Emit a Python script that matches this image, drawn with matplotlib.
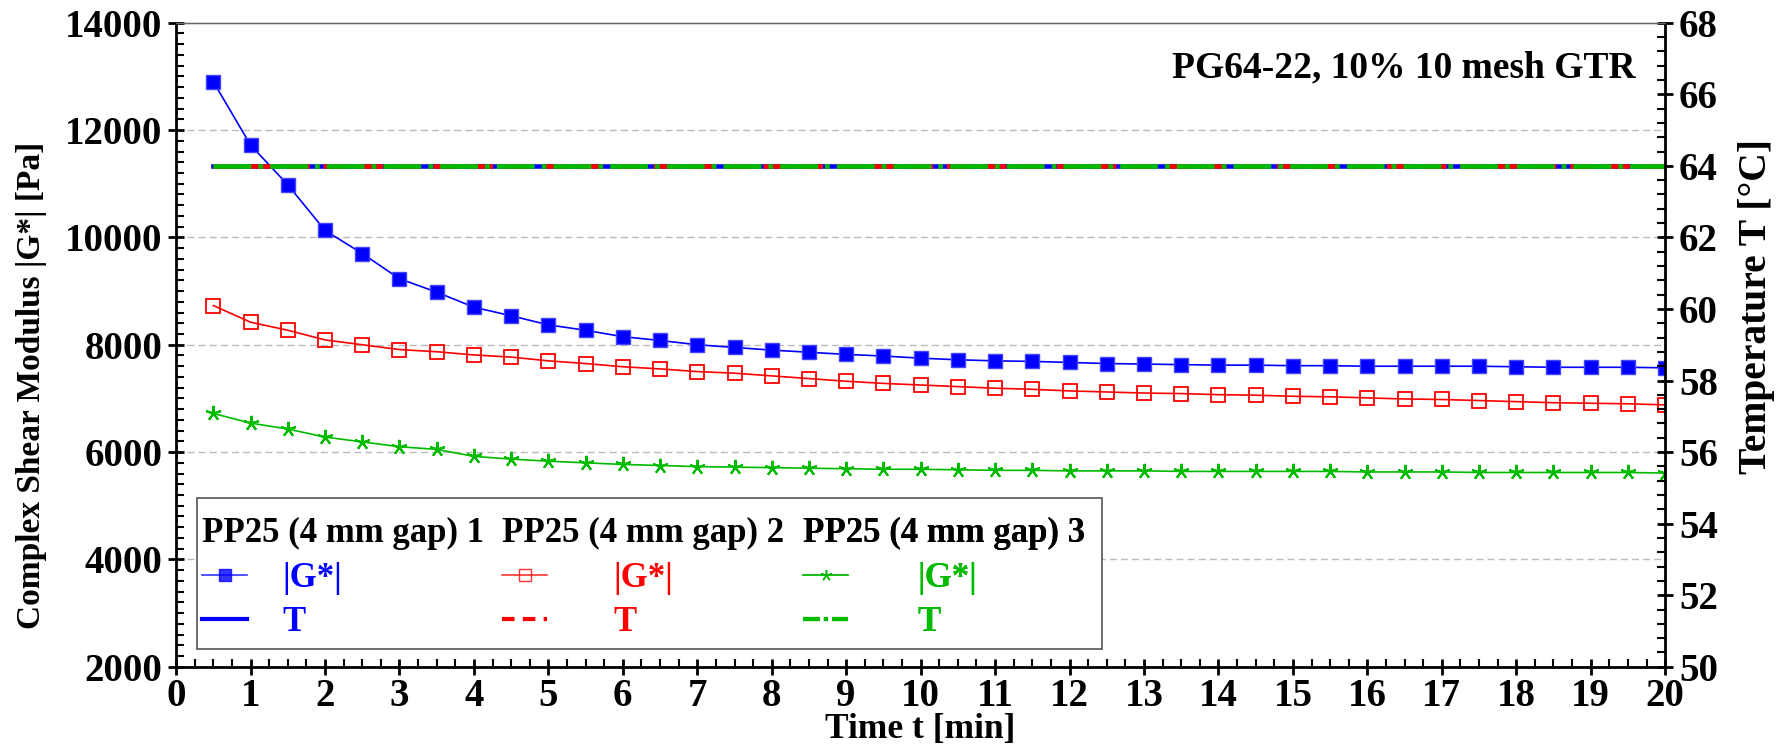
import matplotlib
matplotlib.use("Agg")
import matplotlib.pyplot as plt
from matplotlib.lines import Line2D
from matplotlib.patches import Rectangle
from matplotlib.ticker import MultipleLocator

plt.rcParams['font.family'] = ['Liberation Serif', 'DejaVu Serif']
plt.rcParams['font.weight'] = 'bold'
plt.rcParams['axes.labelweight'] = 'bold'

# Zeit [min]
t = [0.5 * i for i in range(1, 41)]

# |G*| [Pa] fuer die drei Proben
g1 = [12900, 11720, 10980, 10130, 9700, 9230, 8980, 8700, 8540, 8370,
      8270, 8150, 8080, 8000, 7950, 7900, 7860, 7820, 7790, 7750,
      7720, 7700, 7690, 7670, 7650, 7640, 7630, 7620, 7620, 7610,
      7610, 7600, 7600, 7600, 7600, 7590, 7580, 7580, 7580, 7570]
g2 = [8730, 8420, 8270, 8090, 8000, 7910, 7870, 7810, 7770, 7700,
      7650, 7590, 7550, 7500, 7470, 7420, 7370, 7320, 7280, 7250,
      7220, 7190, 7170, 7140, 7120, 7100, 7090, 7070, 7060, 7040,
      7030, 7010, 6990, 6980, 6960, 6940, 6920, 6910, 6900, 6880]
g3 = [6720, 6540, 6430, 6280, 6190, 6100, 6050, 5920, 5870, 5830,
      5800, 5770, 5750, 5730, 5720, 5710, 5700, 5690, 5680, 5680,
      5670, 5660, 5660, 5650, 5650, 5650, 5640, 5640, 5640, 5640,
      5640, 5630, 5630, 5630, 5620, 5620, 5620, 5620, 5620, 5610]

# Temperatur [°C]
temp = [64.0] * 40

labels = ["PP25 (4 mm gap) 1", "PP25 (4 mm gap) 2", "PP25 (4 mm gap) 3"]
blau, rot, gruen = "#0000ff", "#ff0000", "#00bb00"
stern = (5, 2, 0)

fig = plt.figure(figsize=(17.79, 7.45), dpi=100)
ax = fig.add_axes([0.099, 0.105, 0.837, 0.8645])
ax2 = ax.twinx()

ax.plot(t, g1, color=blau, lw=1.2, marker='s', ms=10, mfc=blau, mec='#4444ff', zorder=3)
ax.plot(t, g2, color=rot, lw=1.2, marker='s', ms=10.5, mfc='none', mec=rot, mew=1.3, zorder=3)
ax.plot(t, g3, color=gruen, lw=1.2, marker=stern, ms=11, mec=gruen, mew=1.5, zorder=3)

ax2.plot(t, temp, color=blau, lw=3.3, ls='-')
ax2.plot(t, temp, color=rot, lw=3.3, ls=(0, (5, 3)))
ax2.plot(t, temp, color=gruen, lw=3.4, ls=(0, (8, 1.5, 1, 1.5)))

ax.set_xlim(0, 20)
ax.set_ylim(2000, 14000)
ax2.set_ylim(50, 68)

ax.xaxis.set_major_locator(MultipleLocator(1))
ax.xaxis.set_minor_locator(MultipleLocator(0.25))
ax.yaxis.set_major_locator(MultipleLocator(2000))
ax.yaxis.set_minor_locator(MultipleLocator(200))
ax2.yaxis.set_major_locator(MultipleLocator(2))
ax2.yaxis.set_minor_locator(MultipleLocator(0.4))

for a in (ax, ax2):
    a.tick_params(which='major', direction='inout', length=12, width=2, labelsize=28, pad=4)
    a.tick_params(which='minor', direction='in', length=6, width=1.5)
ax.tick_params(axis='x', pad=2)

for yy in [4000, 6000, 8000, 10000, 12000]:
    ax.axhline(yy, color='#bbbbbb', lw=1, ls=(0, (5, 3)), zorder=0)

for s in ['left', 'bottom']:
    ax.spines[s].set_linewidth(2)
ax2.spines['right'].set_linewidth(2)
ax2.spines['top'].set_color('#666666')
ax2.spines['top'].set_linewidth(1)
ax2.spines['left'].set_visible(False)
ax2.spines['bottom'].set_visible(False)

ax.set_xlabel("Time t [min]", fontsize=25.5, labelpad=-1)
ax.set_ylabel("Complex Shear Modulus |G*| [Pa]", fontsize=24)
ax2.set_ylabel("Temperature T [°C]", fontsize=28.5)
ax.yaxis.set_label_coords(-0.087, 0.437)
ax2.yaxis.set_label_coords(1.049, 0.56)

ax.text(0.9805, 0.929, "PG64-22, 10% 10 mesh GTR", transform=ax.transAxes,
        ha='right', va='center', fontsize=27)

# Legende: drei Spalten mit Kopfzeile
stile = [
    (blau, dict(marker='s', mfc=blau, mec=blau), '-'),
    (rot, dict(marker='s', mfc='none', mec=rot), (0, (3, 2))),
    (gruen, dict(marker=stern, mec=gruen), (0, (4, 1, 1, 1))),
]
spalten_x = [0.0175, 0.219, 0.421]
pads = [1.0, 1.9, 2.0]
for i, (farbe, mk, ls) in enumerate(stile):
    h1 = Line2D([], [], color=farbe, lw=1.2, ms=8, alpha=0.8, **mk)
    h2 = Line2D([], [], color=farbe, lw=3, ls=ls)
    leg = ax.legend([h1, h2], ["|G*|", "T"], title=labels[i], loc='upper left',
                    bbox_to_anchor=(spalten_x[i], 0.232), frameon=False,
                    fontsize=25, title_fontsize=25, alignment='left',
                    handlelength=1.3, handletextpad=pads[i], labelspacing=0.33,
                    borderpad=0, borderaxespad=0, labelcolor='linecolor')
    leg.set_zorder(6)
    ax.add_artist(leg)

ax.add_patch(Rectangle((0.014, 0.028), 0.608, 0.234, transform=ax.transAxes,
                       facecolor='white', edgecolor='#555555', lw=1.2, zorder=5))

fig.savefig("out.png", dpi=100)
